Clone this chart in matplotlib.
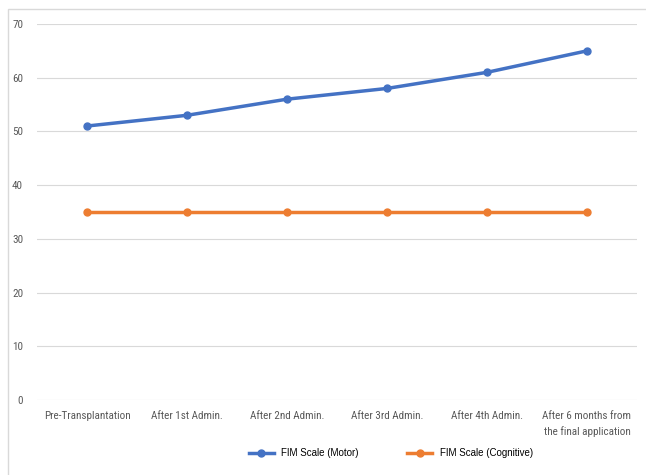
import matplotlib.pyplot as plt
from matplotlib.patches import Rectangle
from matplotlib import font_manager

# data
categories = ['Pre-Transplantation', 'After 1st Admin.', 'After 2nd Admin.',
              'After 3rd Admin.', 'After 4th Admin.',
              'After 6 months from\nthe final application']
motor = [51, 53, 56, 58, 61, 65]
cognitive = [35, 35, 35, 35, 35, 35]

blue = '#4472C4'
orange = '#ED7D31'
installed = {f.name for f in font_manager.fontManager.ttflist}
narrow = [n for n in ['Liberation Sans Narrow', 'DejaVu Sans Condensed', 'Roboto Condensed']
          if n in installed] + ['DejaVu Sans']

fig = plt.figure(figsize=(6.46, 4.75), dpi=100)
ax = fig.add_axes([37 / 646, 0.158, 600 / 646, 0.7915])

# light frame around the chart area
fig.patches.append(Rectangle((8 / 646, -0.1), 1.0, 1 - 9 / 475 + 0.1,
                             transform=fig.transFigure, fill=False,
                             edgecolor='#d9d9d9', linewidth=1))

x = range(len(categories))
ax.plot(x, motor, color=blue, linewidth=2.5, marker='o', markersize=5,
        label='FIM Scale (Motor)')
ax.plot(x, cognitive, color=orange, linewidth=2.5, marker='o', markersize=5,
        label='FIM Scale (Cognitive)')

ax.set_xlim(-0.5, 5.5)
ax.set_ylim(0, 70)
ax.set_yticks(range(0, 71, 10))
ax.grid(axis='y', color='#d9d9d9', linewidth=0.8)
ax.set_axisbelow(True)
for s in ax.spines.values():
    s.set_visible(False)
ax.tick_params(length=0, colors='#595959')
ax.tick_params(axis='y', pad=10)
ax.tick_params(axis='x', pad=8)
ax.set_xticks(list(x))
ax.set_xticklabels(categories, fontsize=8, family=narrow, linespacing=1.6)
for t in ax.get_yticklabels():
    t.set_family(narrow)
    t.set_fontsize(8)

ax.legend(loc='center', bbox_to_anchor=(0.59, -0.142), ncol=2, frameon=False,
          prop={'family': 'Liberation Sans', 'size': 7},
          handlelength=2.5, columnspacing=5)

fig.savefig('out.png', dpi=100)
